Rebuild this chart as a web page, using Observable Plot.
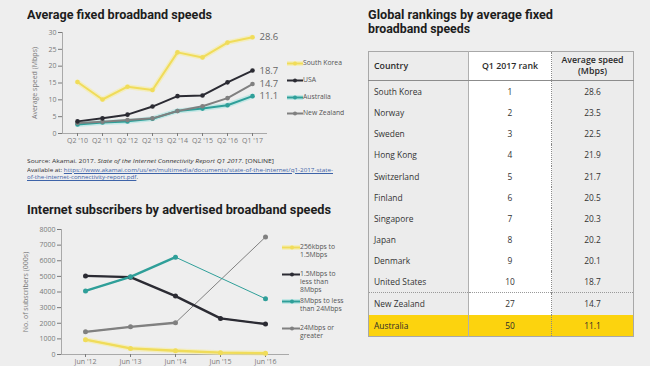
<!DOCTYPE html>
<html>
<head>
<meta charset="utf-8">
<script src="https://cdn.jsdelivr.net/npm/d3@7"></script>
<script src="https://cdn.jsdelivr.net/npm/@observablehq/plot@0.6"></script>
<style>
  html, body { margin: 0; padding: 0; background: #eeeeee; }
  #page { position: relative; width: 650px; height: 366px; overflow: hidden; background: #eeeeee; font-family: "Open Sans", sans-serif; color: #333; }
  .abs { position: absolute; }
  .title { font-family: Roboto, sans-serif; font-weight: 700; font-size: 13px; line-height: 14px; color: #1d1d1d; white-space: nowrap; transform-origin: left center; }
  .src { font-family: "Open Sans", sans-serif; font-size: 6px; line-height: 8px; color: #333; white-space: nowrap; transform-origin: left center; }
  .src a { color: #3d63a8; text-decoration: underline; }
  .leg { font-size: 6.8px; line-height: 8px; color: #555; white-space: nowrap; display: flex; align-items: flex-start; }
  .leg svg { flex: none; margin-top: 1px; }
  table.rank { border-collapse: collapse; table-layout: fixed; font-family: "Open Sans", sans-serif; font-size: 8.4px; color: #333; border: 1px solid #a8a8a8; }
  table.rank td, table.rank th { padding: 0; height: 21.15px; }
  table.rank th { height: 28px; font-weight: 600; font-size: 8.8px; line-height: 11px; color: #2a2a2a; border-bottom: 1px solid #8c8c8c; }
  table.rank .c1 { text-align: left; padding-left: 5px; border-right: 1px solid #b0b0b0; background: #ececec; }
  table.rank .c2 { text-align: center; background: #ffffff; border-right: 1px dotted #888; }
  table.rank .c3 { text-align: center; background: #ececec; }
  table.rank tr.sep td { border-top: 1px dotted #999; }
  table.rank tr.hl td { background: #fcd30e; color: #2a2a2a; }
</style>
</head>
<body>
<div id="page">
  <div id="t1" class="abs title" style="left:27px; top:8px;">Average fixed broadband speeds</div>
  <div id="t2" class="abs title" style="left:27px; top:203px;">Internet subscribers by advertised broadband speeds</div>
  <div id="t3a" class="abs title" style="left:368px; top:8px;">Global rankings by average fixed</div>
  <div id="t3b" class="abs title" style="left:368px; top:22px;">broadband speeds</div>

  <div id="chart1" class="abs" style="left:0; top:22px;"></div>
  <div id="legend1" class="abs" style="left:287px; top:0;"></div>

  <div id="s1" class="abs src" style="left:27px; top:157px;">Source: Akamai. 2017. <i>State of the Internet Connectivity Report Q1 2017</i>. [ONLINE]</div>
  <div id="s2" class="abs src" style="left:27px; top:165.5px;">Available at: <a>https://www.akamai.com/us/en/multimedia/documents/state-of-the-internet/q1-2017-state-</a></div>
  <div id="s3" class="abs src" style="left:27px; top:173px;"><a>of-the-internet-connectivity-report.pdf</a>.</div>

  <div id="chart2" class="abs" style="left:0; top:222px;"></div>
  <div id="legend2" class="abs" style="left:282px; top:0;"></div>

  <div id="tablewrap" class="abs" style="left:368px; top:51px;"></div>
</div>

<script>
// ---------- Data: Average fixed broadband speeds (Mbps) ----------
const quarters = ["Q2 '10", "Q2 '11", "Q2 '12", "Q2 '13", "Q2 '14", "Q2 '15", "Q2 '16", "Q1 '17"];
const southKorea = [15.3, 10.1, 13.9, 12.9, 24.1, 22.6, 27.0, 28.6];
const usa        = [3.6, 4.5, 5.6, 8.0, 11.1, 11.3, 15.2, 18.7];
const australia  = [2.7, 3.3, 3.6, 4.4, 6.7, 7.4, 8.4, 11.1];
const newZealand = [3.1, 3.5, 4.0, 4.5, 6.7, 8.1, 10.5, 14.7];
const speedNames = ["South Korea", "USA", "Australia", "New Zealand"];
const speedTicks = [0, 5, 10, 15, 20, 25, 30];

// ---------- Data: Internet subscribers by advertised speed (000s) ----------
const subsDates = ["Jun '12", "Jun '13", "Jun '14", "Jun '15", "Jun '16"];
const tier256k = [950, 390, 240, 120, 80];
const tier1_5M = [5030, 4950, 3740, 2310, 1950];
const tier8M   = [4070, 4970, 6230, null, 3570];
const tier24M  = [1450, 1770, 2030, null, 7520];
const tierNames = ["256kbps to 1.5Mbps", "1.5Mbps to less than 8Mbps", "8Mbps to less than 24Mbps", "24Mbps or greater"];
const tierLegendLines = [["256kbps to", "1.5Mbps"], ["1.5Mbps to", "less than", "8Mbps"], ["8Mbps to less", "than 24Mbps"], ["24Mbps or", "greater"]];
const subsTicks = [0, 1000, 2000, 3000, 4000, 5000, 6000, 7000, 8000];

// ---------- Data: Global rankings table ----------
const rankHeader = ["Country", "Q1 2017 rank", "Average speed (Mbps)"];
const rankCountries = ["South Korea", "Norway", "Sweden", "Hong Kong", "Switzerland", "Finland", "Singapore", "Japan", "Denmark", "United States", "New Zealand", "Australia"];
const rankPositions = [1, 2, 3, 4, 5, 6, 7, 8, 9, 10, 27, 50];
const rankSpeeds = ["28.6", "23.5", "22.5", "21.9", "21.7", "20.5", "20.3", "20.2", "20.1", "18.7", "14.7", "11.1"];

// ---------- Styles ----------
const seriesColors = ["#f0dc5a", "#2b2b33", "#2f9f99", "#808080"];
const glowColors = {"South Korea": "#f6eda0", "Australia": "#a6e3e0", "256kbps to 1.5Mbps": "#f6eda0", "8Mbps to less than 24Mbps": "#a6e3e0"};

// ---------- Chart 1 ----------
const speedSeries = [southKorea, usa, australia, newZealand];
const speedRows = speedNames.flatMap((s, k) => quarters.map((q, i) => ({s, q, v: speedSeries[k][i]})));
const drawOrder1 = ["South Korea", "Australia", "New Zealand", "USA"];
const ordered1 = drawOrder1.flatMap(s => speedRows.filter(d => d.s === s));
const glow1 = speedRows.filter(d => glowColors[d.s]);

const chart1 = Plot.plot({
  width: 340, height: 131,
  marginLeft: 62, marginRight: 73, marginTop: 10, marginBottom: 20,
  style: {background: "transparent", fontFamily: "Open Sans, sans-serif", fontSize: "7px", color: "#7a7a7a", overflow: "visible"},
  x: {type: "point", domain: quarters, padding: 0.47, label: null},
  y: {domain: [0, 30], label: "Average speed (Mbps)"},
  color: {domain: speedNames, range: seriesColors},
  marks: [
    Plot.frame({anchor: "left", stroke: "#a9a9a9"}),
    Plot.ruleY([0], {stroke: "#a9a9a9"}),
    Plot.axisY({ticks: speedTicks, tickSize: 4, tickPadding: 2, fontSize: 7, label: "Average speed (Mbps)", labelAnchor: "center", labelArrow: "none", labelOffset: 30}),
    Plot.axisX({tickSize: 3, tickPadding: 2, fontSize: 7, label: null}),
    Plot.line(glow1, {x: "q", y: "v", z: "s", stroke: d => glowColors[d.s], strokeWidth: 5, strokeOpacity: 0.6}),
    Plot.line(ordered1, {x: "q", y: "v", z: "s", stroke: "s", strokeWidth: 2}),
    Plot.dot(ordered1, {x: "q", y: "v", fill: "s", r: 2.3}),
    Plot.text(speedRows.filter(d => d.q === quarters[quarters.length - 1]), {x: "q", y: "v", text: d => d.v.toFixed(1), dx: 7, textAnchor: "start", fontSize: 9.5, fill: "#666"})
  ]
});
document.getElementById("chart1").appendChild(chart1);

// ---------- Chart 2 ----------
const tierSeries = [tier256k, tier1_5M, tier8M, tier24M];
const subsRows = tierNames.flatMap((s, k) => subsDates.map((q, i) => ({s, q, v: tierSeries[k][i]})));
const drawOrder2 = [tierNames[0], tierNames[3], tierNames[1], tierNames[2]];
const ordered2 = drawOrder2.flatMap(s => subsRows.filter(d => d.s === s));
const valid2 = ordered2.filter(d => d.v != null);
const glow2 = subsRows.filter(d => glowColors[d.s] && d.v != null && d.s === tierNames[0]);

const chart2 = Plot.plot({
  width: 340, height: 144,
  marginLeft: 61, marginRight: 51, marginTop: 7, marginBottom: 12,
  style: {background: "transparent", fontFamily: "Open Sans, sans-serif", fontSize: "7px", color: "#7a7a7a", overflow: "visible"},
  x: {type: "point", domain: subsDates, padding: 0.52, label: null},
  y: {domain: [0, 8000], label: "No. of subscribers (000s)"},
  color: {domain: tierNames, range: seriesColors},
  marks: [
    Plot.frame({anchor: "left", stroke: "#a9a9a9"}),
    Plot.ruleY([0], {stroke: "#a9a9a9"}),
    Plot.axisY({ticks: subsTicks, tickSize: 4, tickPadding: 2, fontSize: 7, tickFormat: d => String(d), label: "No. of subscribers (000s)", labelAnchor: "center", labelArrow: "none", labelOffset: 38}),
    Plot.axisX({tickSize: 3, tickPadding: 2, fontSize: 7, label: null}),
    Plot.line(glow2, {x: "q", y: "v", z: "s", stroke: d => glowColors[d.s], strokeWidth: 5, strokeOpacity: 0.6}),
    Plot.line(valid2, {x: "q", y: "v", z: "s", stroke: "s", strokeWidth: 1}),
    Plot.line(ordered2, {x: "q", y: "v", z: "s", stroke: "s", strokeWidth: 2.4}),
    Plot.dot(valid2, {x: "q", y: "v", fill: "s", r: 2.5})
  ]
});
document.getElementById("chart2").appendChild(chart2);

// ---------- Legends ----------
function swatch(color, glow, w, dotX) {
  const g = glow ? `<line x1="0" y1="3.5" x2="${w}" y2="3.5" stroke="${glow}" stroke-width="5" stroke-opacity="0.6"/>` : "";
  return `<svg width="${w}" height="7">${g}<line x1="0" y1="3.5" x2="${w}" y2="3.5" stroke="${color}" stroke-width="2"/><circle cx="${dotX}" cy="3.5" r="2" fill="${color}"/></svg>`;
}
const leg1 = document.getElementById("legend1");
const leg1Y = [58.5, 75.5, 92.5, 109];
speedNames.forEach((n, i) => {
  const d = document.createElement("div");
  d.className = "abs leg";
  d.style.left = "0px"; d.style.top = leg1Y[i] + "px";
  d.innerHTML = swatch(seriesColors[i], glowColors[n], 16, 8) + `<span>${n}</span>`;
  leg1.appendChild(d);
});
const leg2 = document.getElementById("legend2");
const leg2Y = [243, 270, 297, 323.5];
tierNames.forEach((n, i) => {
  const d = document.createElement("div");
  d.className = "abs leg";
  d.style.left = "0px"; d.style.top = leg2Y[i] + "px";
  d.innerHTML = swatch(seriesColors[i], glowColors[n], 18, 10) + `<span>${tierLegendLines[i].join("<br>")}</span>`;
  leg2.appendChild(d);
});

// ---------- Table ----------
const tbl = document.createElement("table");
tbl.className = "rank";
tbl.innerHTML = `<colgroup><col style="width:100px"><col style="width:83px"><col style="width:82px"></colgroup>`;
const thead = document.createElement("tr");
thead.innerHTML = `<th class="c1">${rankHeader[0]}</th><th class="c2">${rankHeader[1]}</th><th class="c3">Average speed<br>(Mbps)</th>`;
tbl.appendChild(thead);
rankCountries.forEach((c, i) => {
  const tr = document.createElement("tr");
  if (c === "New Zealand") tr.className = "sep";
  if (c === "Australia") tr.className = "hl";
  tr.innerHTML = `<td class="c1">${c}</td><td class="c2">${rankPositions[i]}</td><td class="c3">${rankSpeeds[i]}</td>`;
  tbl.appendChild(tr);
});
document.getElementById("tablewrap").appendChild(tbl);

// ---------- Fit text widths ----------
function fit(id, target) {
  const el = document.getElementById(id);
  const w = el.getBoundingClientRect().width;
  if (w > 0) el.style.transform = `scaleX(${target / w})`;
}
fit("t1", 185); fit("t2", 304); fit("t3a", 185); fit("t3b", 102);
fit("s1", 247); fit("s2", 306); fit("s3", 111);
</script>
</body>
</html>
